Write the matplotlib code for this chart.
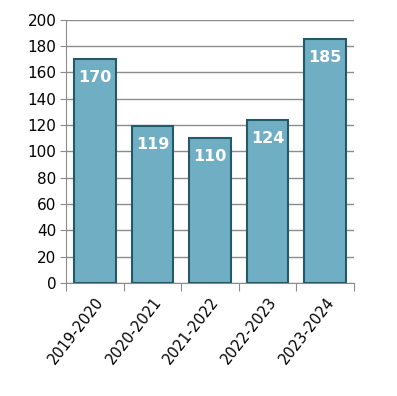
import matplotlib
matplotlib.use("Agg")
import matplotlib.pyplot as plt
import numpy as np

# seasons and counts
seasons = ['2019-2020', '2020-2021', '2021-2022', '2022-2023', '2023-2024']
counts = [170, 119, 110, 124, 185]

plt.rcParams['font.family'] = ['DejaVu Sans']

fig = plt.figure(figsize=(3.97, 3.96), dpi=100)
ax = fig.add_axes([66 / 397, 1 - 283 / 396, (354 - 66) / 397, (283 - 19.5) / 396])

x = np.arange(len(seasons))
bars = ax.bar(x, counts, width=0.72, color='#70afc3', edgecolor='#24596a', linewidth=1.5, zorder=3)

for b, v in zip(bars, counts):
    ax.text(b.get_x() + b.get_width() / 2, v - 14, str(v), ha='center', va='center',
            color='white', fontsize=11.5, fontweight='bold', zorder=4)

ax.set_xlim(-0.5, len(seasons) - 0.5)
ax.set_ylim(0, 200)
ax.set_yticks(range(0, 201, 20))
ax.yaxis.grid(True, color='#8c8c8c', linewidth=1, zorder=0)
ax.tick_params(axis='y', labelsize=11, length=4, color='#8c8c8c', pad=3)

ax.set_xticks(np.arange(len(seasons) + 1) - 0.5)
ax.set_xticklabels([])
ax.set_xticks(x, minor=True)
ax.set_xticklabels(seasons, minor=True, rotation=52, ha='right', rotation_mode='anchor', fontsize=10.5)
ax.tick_params(axis='x', which='major', length=6, color='#8c8c8c')
ax.tick_params(axis='x', which='minor', length=0, pad=8)

for s in ['top', 'right']:
    ax.spines[s].set_visible(False)
for s in ['left', 'bottom']:
    ax.spines[s].set_color('#8c8c8c')

fig.savefig('out.png', dpi=100)
